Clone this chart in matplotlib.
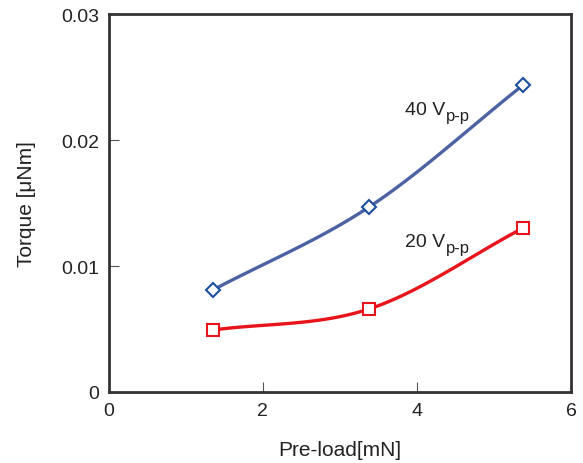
import matplotlib
matplotlib.use('Agg')
import matplotlib.pyplot as plt
import numpy as np

plt.rcParams['font.family'] = ['Liberation Sans', 'DejaVu Sans']

# data
preload = [1.355, 3.38, 5.38]
torque_40 = [0.0081, 0.01468, 0.02437]
torque_20 = [0.00492, 0.00659, 0.01302]
series_labels = ['40 V', '20 V']
label_sub = 'p-p'
xticks = [0, 2, 4, 6]
yticks = [0, 0.01, 0.02, 0.03]
yticklabels = ['0', '0.01', '0.02', '0.03']


def smooth(x, y, n=60):
    # Catmull-Rom spline through the measured points
    x = np.asarray(x, float)
    y = np.asarray(y, float)
    px = np.concatenate([[2 * x[0] - x[1]], x, [2 * x[-1] - x[-2]]])
    py = np.concatenate([[2 * y[0] - y[1]], y, [2 * y[-1] - y[-2]]])
    xs, ys = [], []
    for i in range(1, len(px) - 2):
        t = np.linspace(0, 1, n)
        for p, out in ((px, xs), (py, ys)):
            p0, p1, p2, p3 = p[i - 1], p[i], p[i + 1], p[i + 2]
            out.append(0.5 * (2 * p1 + (-p0 + p2) * t
                              + (2 * p0 - 5 * p1 + 4 * p2 - p3) * t ** 2
                              + (-p0 + 3 * p1 - 3 * p2 + p3) * t ** 3))
    return np.concatenate(xs), np.concatenate(ys)


fig = plt.figure(figsize=(5.83, 4.64), dpi=100)
ax = fig.add_axes([108.5 / 583, 71 / 464, 462.5 / 583, 378 / 464])

sx, sy = smooth(preload, torque_40)
ax.plot(sx, sy, color='#4c62a3', lw=2.4, zorder=2)
ax.plot(preload, torque_40, ls='none', marker='D', ms=7, mfc='white',
        mec='#1d4f9c', mew=1.5, zorder=3)

sx, sy = smooth(preload, torque_20)
ax.plot(sx, sy, color='#e8141c', lw=2.4, zorder=2)
ax.plot(preload, torque_20, ls='none', marker='s', ms=9, mfc='white',
        mec='#e8141c', mew=1.5, zorder=3)

for lab, ypos in zip(series_labels, [0.0221, 0.0116]):
    t = ax.text(3.85, ypos, lab, fontsize=14, color='#222222')
    ax.annotate(label_sub, xy=(1.0, 0.0), xycoords=t, xytext=(0.5, -1.5),
                textcoords='offset points', va='baseline', ha='left',
                fontsize=12, color='#222222')

ax.set_xlim(0, 6)
ax.set_ylim(0, 0.03)
ax.set_xticks(xticks)
ax.set_yticks(yticks)
ax.set_yticklabels(yticklabels)
ax.tick_params(direction='in', length=7, width=0.8, color='#555555',
               labelsize=14, labelcolor='#222222', pad=7)
for s in ax.spines.values():
    s.set_linewidth(2)
    s.set_color('#333333')

ax.set_xlabel('Pre-load[mN]', fontsize=15, color='#222222', labelpad=15)
ax.set_ylabel('Torque [\u03bcNm]', fontsize=15, color='#222222', labelpad=18)

fig.savefig('out.png', dpi=100)
